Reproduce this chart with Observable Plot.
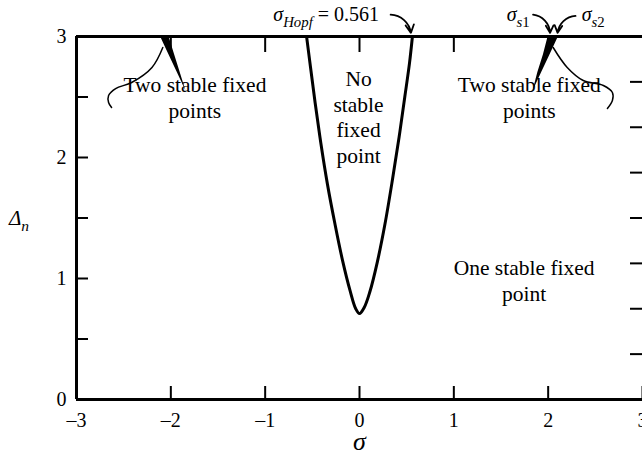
<!DOCTYPE html>
<html>
<head>
<meta charset="utf-8">
<script src="https://cdn.jsdelivr.net/npm/d3@7"></script>
<script src="https://cdn.jsdelivr.net/npm/@observablehq/plot@0.6"></script>
<style>
  body { margin: 0; background: #fff; }
  svg { display: block; }
</style>
</head>
<body>
<div id="chart"></div>
<script>
// Hopf boundary: sigma and Delta_n along the V-shaped curve (left branch, then right)
const hopfSigma = [-0.561, -0.52, -0.47, -0.41, -0.34, -0.26, -0.18, -0.10, -0.04, 0.0, 0.05, 0.11, 0.19, 0.27, 0.35, 0.42, 0.48, 0.53, 0.561];
const hopfDelta = [3.0, 2.75, 2.45, 2.12, 1.78, 1.45, 1.15, 0.90, 0.75, 0.71, 0.76, 0.89, 1.14, 1.45, 1.82, 2.17, 2.50, 2.78, 3.0];

// Thin cusp wedges bounded by sigma_s1 and sigma_s2 (two stable fixed points)
const wedgeDelta = [2.55, 2.70, 2.85, 3.0];
const leftWedgeInner = [-1.84, -1.90, -1.96, -2.02];
const leftWedgeOuter = [-1.84, -1.93, -2.02, -2.11];
const rightWedgeInner = [1.84, 1.89, 1.95, 2.00];
const rightWedgeOuter = [1.84, 1.93, 2.02, 2.11];

// Axis ticks
const xTicks = [-3, -2, -1, 0, 1, 2, 3];
const xTopTicks = [-2, -1, 0, 1, 2];
const yLabelTicks = [0, 1, 2, 3];
const yMinorTicks = [0.5, 1, 1.5, 2, 2.5];
const yRightTicks = [0.375, 0.75, 1.125, 1.5, 1.875, 2.25, 2.625];

// Region labels
const regionText = ["Two stable fixed\npoints", "No\nstable\nfixed\npoint", "Two stable fixed\npoints", "One stable fixed\npoint"];
const regionSigma = [-1.745, -0.01, 1.80, 1.745];
const regionDelta = [2.50, 2.34, 2.50, 0.99];

// Curved leader lines from the wedges to their labels
const leftLeaderSigma = [-2.085, -2.20, -2.415, -2.585, -2.66, -2.66, -2.628];
const leftLeaderDelta = [2.909, 2.744, 2.62, 2.57, 2.512, 2.455, 2.413];
const rightLeaderSigma = [2.053, 2.202, 2.372, 2.585, 2.681, 2.681, 2.628];
const rightLeaderDelta = [2.909, 2.744, 2.636, 2.595, 2.537, 2.471, 2.405];

// Pointer arrows for sigma_Hopf, sigma_s1, sigma_s2
const arrowFromSigma = [0.33, 1.84, 2.29];
const arrowFromDelta = [3.18, 3.18, 3.17];
const arrowToSigma = [0.545, 2.02, 2.10];
const arrowToDelta = [3.03, 3.03, 3.03];
const arrowBend = [40, 40, -40];

const serif = '"Liberation Serif", "Times New Roman", Times, serif';

const hopf = hopfSigma.map((s, i) => ({s, d: hopfDelta[i]}));
const leftWedge = wedgeDelta.map((d, i) => ({d, a: leftWedgeInner[i], b: leftWedgeOuter[i]}));
const rightWedge = wedgeDelta.map((d, i) => ({d, a: rightWedgeInner[i], b: rightWedgeOuter[i]}));
const regions = regionText.map((t, i) => ({t, s: regionSigma[i], d: regionDelta[i]}));
const leftLeader = leftLeaderSigma.map((s, i) => ({s, d: leftLeaderDelta[i]}));
const rightLeader = rightLeaderSigma.map((s, i) => ({s, d: rightLeaderDelta[i]}));
// one arrow mark per pointer, since bend is a constant option
const arrowMarks = arrowBend.map((bend, i) =>
  Plot.arrow([{x1: arrowFromSigma[i], y1: arrowFromDelta[i], x2: arrowToSigma[i], y2: arrowToDelta[i]}], {
    x1: "x1", y1: "y1", x2: "x2", y2: "y2", bend,
    stroke: "black", strokeWidth: 1.8, headLength: 9, headAngle: 55
  })
);

const chart = Plot.plot({
  width: 642,
  height: 456,
  marginLeft: 76,
  marginRight: 0,
  marginTop: 36,
  marginBottom: 57,
  x: {domain: [-3, 3]},
  y: {domain: [0, 3]},
  style: {fontFamily: serif, background: "white", color: "black"},
  marks: [
    // cusp wedges
    Plot.areaX(leftWedge, {y: "d", x1: "a", x2: "b", fill: "black"}),
    Plot.areaX(rightWedge, {y: "d", x1: "a", x2: "b", fill: "black"}),
    // Hopf curve
    Plot.line(hopf, {x: "s", y: "d", stroke: "black", strokeWidth: 3, curve: "catmull-rom"}),
    // frame: left, bottom, top
    Plot.ruleX([-3], {stroke: "black", strokeWidth: 3}),
    Plot.ruleY([0, 3], {stroke: "black", strokeWidth: 3}),
    // inward ticks
    Plot.axisX(xTicks, {anchor: "bottom", tickSize: -13, strokeWidth: 2, tickFormat: () => ""}),
    Plot.axisX(xTopTicks, {anchor: "top", tickSize: -15, strokeWidth: 2, tickFormat: () => ""}),
    Plot.axisY(yMinorTicks, {anchor: "left", tickSize: -12, strokeWidth: 2, tickFormat: () => ""}),
    Plot.axisY(yRightTicks, {anchor: "right", tickSize: -13, strokeWidth: 2, tickFormat: () => ""}),
    // tick labels
    Plot.axisX(xTicks, {anchor: "bottom", tickSize: 0, tickPadding: 13, fontSize: 20, tickFormat: d => d < 0 ? "–" + (-d) : String(d)}),
    Plot.axisY(yLabelTicks, {anchor: "left", tickSize: 0, tickPadding: 10, fontSize: 20, tickFormat: d => String(d)}),
    // x axis title
    Plot.text(["σ"], {x: 0, frameAnchor: "bottom", dy: 50, fontSize: 26, fontStyle: "italic", text: d => d}),
    // region labels
    Plot.text(regions, {x: "s", y: "d", text: "t", fontSize: 21.5, lineHeight: 1.18, fill: "black"}),
    // leader lines
    Plot.line(leftLeader, {x: "s", y: "d", stroke: "black", strokeWidth: 1.5, curve: "catmull-rom"}),
    Plot.line(rightLeader, {x: "s", y: "d", stroke: "black", strokeWidth: 1.5, curve: "catmull-rom"}),
    // pointer arrows
    ...arrowMarks
  ]
});

document.getElementById("chart").appendChild(chart);

// Labels with subscripts, placed through the plot's scales
const svg = d3.select(chart);
const sx = chart.scale("x");
const sy = chart.scale("y");

function subLabel(x, y, anchor, size, parts) {
  const t = svg.append("text")
    .attr("x", anchor === "abs" ? x : sx.apply(x))
    .attr("y", sy.apply(y))
    .attr("text-anchor", anchor === "abs" ? "start" : anchor)
    .attr("font-family", serif)
    .attr("font-size", size)
    .attr("fill", "black");
  let shift = 0;
  for (const p of parts) {
    const s = t.append("tspan").text(p.text);
    if (p.italic) s.attr("font-style", "italic");
    const target = p.sub ? size * 0.3 : 0;
    if (target !== shift) { s.attr("dy", target - shift); shift = target; }
    if (p.sub) s.attr("font-size", size * 0.74);
  }
  return t;
}

subLabel(0.213, 3.124, "end", 20, [
  {text: "σ", italic: true},
  {text: "Hopf", italic: true, sub: true},
  {text: " = 0.561"}
]);
subLabel(1.81, 3.124, "end", 20, [
  {text: "σ", italic: true},
  {text: "s", italic: true, sub: true},
  {text: "1", sub: true}
]);
subLabel(2.36, 3.124, "start", 20, [
  {text: "σ", italic: true},
  {text: "s", italic: true, sub: true},
  {text: "2", sub: true}
]);
// y axis title
subLabel(9, 1.44, "abs", 21, [
  {text: "Δ", italic: true},
  {text: "n", italic: true, sub: true}
]);
</script>
</body>
</html>
